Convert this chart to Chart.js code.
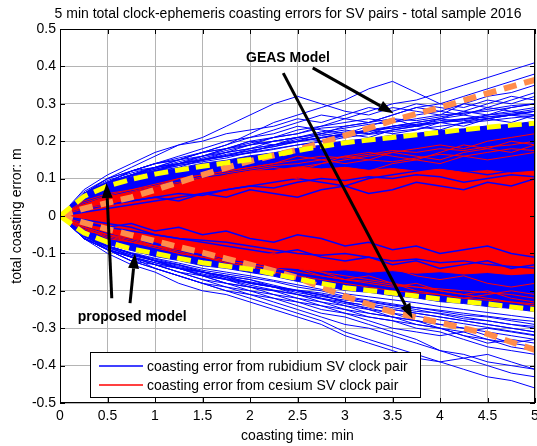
<!DOCTYPE html>
<html>
<head>
<meta charset="utf-8">
<script src="https://cdn.jsdelivr.net/npm/chart.js@4.4.1/dist/chart.umd.min.js"></script>
<style>
  html, body { margin: 0; padding: 0; background: #fff; }
  #wrap { width: 537px; height: 446px; }
</style>
</head>
<body>
<div id="wrap"><canvas id="chart" width="537" height="446"></canvas></div>
<script>
// coasting time in minutes
var times = [0, 0.25, 0.5, 0.75, 1, 1.25, 1.5, 1.75, 2, 2.25, 2.5, 2.75, 3, 3.25, 3.5, 3.75, 4, 4.25, 4.5, 4.75, 5];

// model envelopes (m)
var proposedUpper = [0, .052, .08, .098, .112, .123, .133, .142, .151, .163, .175, .186, .196, .203, .21, .217, .224, .231, .237, .243, .248];
var proposedLower = [0, -.045, -.07, -.088, -.1, -.113, -.125, -.134, -.142, -.155, -.168, -.18, -.192, -.199, -.206, -.214, -.222, -.229, -.235, -.243, -.25];
var geasUpper = [0, .02, .035, .05, .07, .09, .11, .129, .147, .162, .177, .196, .215, .235, .255, .273, .29, .309, .328, .346, .364];
var geasLower = [0, -.018, -.035, -.051, -.067, -.083, -.098, -.114, -.13, -.147, -.165, -.19, -.215, -.236, -.257, -.271, -.285, -.3, -.315, -.337, -.358];

// edges of the dense bundles of curves
var rubidiumHi = [0, .056, .087, .104, .119, .128, .141, .149, .161, .169, .181, .189, .201, .207, .216, .221, .229, .233, .241, .245, .253];
var rubidiumLo = [0, -.05, -.076, -.092, -.108, -.119, -.133, -.14, -.151, -.161, -.175, -.185, -.199, -.204, -.213, -.219, -.229, -.234, -.242, -.247, -.256];
var cesiumHi = [0, .03, .052, .062, .077, .086, .101, .108, .12, .122, .131, .126, .13, .122, .127, .12, .125, .117, .122, .115, .12];
var cesiumLo = [0, -.026, -.044, -.06, -.069, -.088, -.098, -.114, -.123, -.137, -.14, -.147, -.144, -.15, -.146, -.153, -.149, -.155, -.151, -.157, -.153];

// individual rubidium (blue) curves
var rb01 = [0, .05, .09, .11, .13, .15, .16, .18, .2, .21, .23, .24, .26, .28, .3, .31, .33, .35, .37, .39, .41];
var rb02 = [0, .06, .09, .12, .14, .15, .17, .19, .22, .25, .27, .29, .31, .34, .36, .33, .3, .29, .31, .3, .32];
var rb03 = [0, .06, .1, .13, .16, .19, .21, .24, .27, .3, .32, .3, .28, .27, .29, .28, .27, .3, .32, .33, .35];
var rb04 = [0, .07, .11, .14, .17, .19, .2, .22, .23, .24, .26, .25, .27, .29, .28, .3, .29, .28, .27, .29, .3];
var rb05 = [0, .05, .08, .11, .13, .14, .16, .18, .19, .21, .22, .24, .25, .26, .25, .27, .28, .3, .29, .28, .27];
var rb06 = [0, .06, .09, .12, .13, .15, .17, .18, .2, .19, .21, .22, .23, .22, .24, .25, .26, .25, .27, .28, .29];
var rb07 = [0, .05, .09, .1, .12, .14, .15, .17, .18, .2, .21, .2, .22, .24, .26, .24, .23, .25, .26, .25, .27];
var rb08 = [0, .06, .08, .11, .13, .14, .15, .16, .18, .19, .2, .22, .21, .23, .22, .23, .25, .24, .26, .27, .26];
var rb09 = [0, .05, .09, .12, .14, .16, .18, .2, .21, .22, .24, .23, .22, .21, .23, .24, .26, .28, .3, .32, .31];
var rb10 = [0, .06, .09, .11, .12, .14, .16, .17, .19, .2, .21, .22, .24, .25, .27, .29, .3, .32, .34, .36, .38];
var rb11 = [0, .05, .08, .1, .12, .13, .15, .16, .17, .19, .2, .21, .22, .23, .24, .25, .26, .27, .26, .27, .28];
var rb12 = [0, .06, .1, .12, .14, .15, .17, .19, .21, .23, .25, .27, .26, .25, .27, .29, .28, .27, .29, .31, .33];
var rb13 = [0, -.05, -.09, -.12, -.14, -.16, -.18, -.2, -.22, -.24, -.26, -.28, -.31, -.33, -.35, -.37, -.39, -.41, -.43, -.44, -.46];
var rb14 = [0, -.06, -.1, -.13, -.15, -.18, -.2, -.21, -.23, -.25, -.27, -.29, -.32, -.34, -.36, -.38, -.39, -.38, -.4, -.42, -.43];
var rb15 = [0, -.05, -.08, -.11, -.14, -.16, -.18, -.19, -.21, -.22, -.24, -.26, -.27, -.29, -.31, -.33, -.36, -.38, -.37, -.39, -.41];
var rb16 = [0, -.06, -.09, -.12, -.13, -.15, -.17, -.19, -.2, -.21, -.22, -.24, -.25, -.27, -.28, -.3, -.31, -.33, -.35, -.36, -.37];
var rb17 = [0, -.05, -.09, -.11, -.13, -.14, -.16, -.17, -.19, -.2, -.22, -.23, -.25, -.26, -.27, -.29, -.3, -.32, -.33, -.34, -.35];
var rb18 = [0, -.06, -.08, -.1, -.12, -.14, -.16, -.18, -.19, -.21, -.23, -.24, -.26, -.28, -.3, -.31, -.32, -.31, -.33, -.35, -.36];
var rb19 = [0, -.05, -.08, -.1, -.12, -.14, -.15, -.17, -.18, -.19, -.21, -.22, -.24, -.25, -.26, -.28, -.29, -.3, -.31, -.32, -.33];
var rb20 = [0, -.06, -.09, -.11, -.13, -.15, -.17, -.18, -.2, -.22, -.23, -.25, -.26, -.27, -.28, -.29, -.3, -.32, -.34, -.33, -.34];
var rb21 = [0, -.05, -.08, -.1, -.12, -.13, -.15, -.16, -.18, -.19, -.2, -.21, -.23, -.25, -.27, -.28, -.3, -.31, -.3, -.31, -.32];
var rb22 = [0, -.06, -.09, -.12, -.14, -.16, -.18, -.2, -.21, -.23, -.25, -.27, -.29, -.3, -.32, -.34, -.36, -.37, -.39, -.4, -.41];
var rb23 = [0, -.05, -.08, -.1, -.12, -.14, -.15, -.16, -.17, -.19, -.2, -.22, -.23, -.24, -.25, -.26, -.27, -.28, -.29, -.3, -.31];
var rb24 = [0, -.05, -.09, -.11, -.13, -.15, -.16, -.18, -.19, -.2, -.21, -.23, -.24, -.26, -.27, -.28, -.29, -.3, -.32, -.34, -.33];
// rubidium curves hugging the proposed-model envelope
var rb29 = [0, .06, .09, .11, .125, .14, .15, .165, .175, .185, .2, .21, .22, .23, .235, .245, .25, .26, .265, .27, .28];
var rb30 = [0, .055, .085, .105, .12, .135, .145, .155, .17, .18, .19, .2, .215, .225, .24, .245, .255, .26, .27, .275, .285];
var rb31 = [0, .06, .095, .115, .13, .14, .155, .17, .18, .19, .205, .215, .225, .22, .23, .24, .25, .255, .26, .27, .27];
var rb32 = [0, .058, .09, .11, .128, .145, .16, .175, .19, .2, .21, .225, .235, .245, .25, .26, .27, .275, .28, .29, .3];
var rb33 = [0, .06, .09, .108, .122, .135, .148, .16, .168, .178, .19, .198, .21, .218, .226, .232, .24, .248, .255, .262, .268];
var rb34 = [0, .065, .1, .12, .14, .155, .17, .18, .195, .21, .22, .235, .24, .25, .26, .255, .265, .275, .285, .295, .3];
var rb35 = [0, .058, .088, .107, .125, .138, .152, .162, .174, .186, .198, .208, .218, .228, .235, .242, .25, .258, .265, .272, .28];
var rb36 = [0, -.055, -.08, -.1, -.115, -.13, -.145, -.155, -.165, -.175, -.19, -.2, -.215, -.225, -.235, -.245, -.255, -.265, -.27, -.28, -.29];
var rb37 = [0, -.05, -.085, -.105, -.12, -.135, -.15, -.16, -.17, -.185, -.2, -.21, -.22, -.235, -.245, -.255, -.26, -.27, -.28, -.29, -.295];
var rb38 = [0, -.055, -.082, -.1, -.118, -.132, -.148, -.165, -.18, -.19, -.205, -.215, -.225, -.23, -.24, -.25, -.262, -.275, -.28, -.29, -.3];
var rb39 = [0, -.06, -.09, -.11, -.125, -.14, -.155, -.168, -.178, -.19, -.2, -.212, -.23, -.24, -.25, -.26, -.27, -.28, -.29, -.3, -.31];
var rb40 = [0, -.052, -.08, -.098, -.113, -.126, -.14, -.15, -.16, -.172, -.184, -.196, -.208, -.216, -.224, -.232, -.242, -.25, -.258, -.266, -.274];
var rb41 = [0, -.058, -.088, -.108, -.125, -.14, -.158, -.17, -.185, -.198, -.21, -.222, -.234, -.246, -.26, -.268, -.278, -.288, -.298, -.308, -.318];
var rb42 = [0, -.054, -.084, -.104, -.12, -.138, -.15, -.164, -.176, -.188, -.198, -.206, -.218, -.228, -.238, -.245, -.252, -.26, -.268, -.276, -.282];
// rubidium curves running inside the cesium bundle
var rb25 = [0, .01, .02, .03, .04, .05, .06, .07, .08, .09, .1, .09, .08, .1, .11, .12, .13, .12, .11, .12, .13];
var rb26 = [0, -.01, -.02, -.03, -.05, -.06, -.07, -.08, -.09, -.1, -.09, -.11, -.12, -.11, -.13, -.12, -.14, -.13, -.12, -.14, -.13];
var rb27 = [0, .02, .03, .04, .05, .04, .06, .05, .07, .06, .05, .07, .08, .06, .07, .09, .08, .07, .09, .08, .1];
var rb28 = [0, -.02, -.03, -.02, -.04, -.03, -.05, -.04, -.06, -.07, -.05, -.06, -.08, -.07, -.09, -.08, -.1, -.09, -.08, -.1, -.11];
var rb43 = [0, .015, .03, .04, .05, .06, .055, .07, .08, .075, .09, .1, .095, .105, .1, .11, .105, .09, .1, .11, .105];
var rb44 = [0, -.015, -.03, -.04, -.05, -.06, -.065, -.07, -.08, -.09, -.1, -.105, -.1, -.11, -.12, -.115, -.125, -.12, -.13, -.135, -.14];

// individual cesium (red) curves
var cs01 = [0, .03, .05, .06, .07, .08, .09, .1, .11, .12, .13, .14, .15, .16, .17, .18, .19, .18, .2, .21, .22];
var cs02 = [0, .04, .06, .07, .08, .1, .11, .12, .13, .14, .16, .15, .14, .15, .17, .16, .15, .17, .18, .17, .19];
var cs03 = [0, .03, .04, .06, .07, .08, .09, .11, .12, .13, .12, .14, .16, .17, .16, .15, .17, .19, .18, .2, .19];
var cs04 = [0, -.03, -.05, -.07, -.08, -.09, -.1, -.11, -.12, -.13, -.14, -.15, -.16, -.17, -.18, -.19, -.2, -.21, -.22, -.23, -.24];
var cs05 = [0, -.03, -.06, -.07, -.08, -.1, -.11, -.12, -.13, -.14, -.13, -.15, -.17, -.18, -.19, -.18, -.2, -.21, -.2, -.22, -.23];
var cs06 = [0, -.04, -.05, -.06, -.08, -.09, -.1, -.12, -.13, -.12, -.14, -.16, -.17, -.16, -.18, -.2, -.21, -.22, -.21, -.2, -.21];
var cs07 = [0, .02, .03, .05, .06, .07, .08, .09, .1, .11, .1, .12, .13, .12, .14, .15, .14, .16, .15, .16, .17];
var cs08 = [0, -.02, -.04, -.05, -.06, -.07, -.09, -.1, -.11, -.1, -.12, -.13, -.14, -.15, -.14, -.16, -.17, -.16, -.18, -.19, -.18];
var cs09 = [0, .035, .055, .07, .085, .1, .11, .12, .13, .14, .15, .16, .155, .165, .175, .17, .18, .175, .185, .19, .2];
var cs10 = [0, .03, .05, .065, .08, .09, .105, .115, .125, .135, .14, .15, .16, .15, .145, .155, .165, .16, .17, .18, .175];
var cs11 = [0, -.035, -.055, -.07, -.085, -.1, -.11, -.125, -.135, -.15, -.16, -.17, -.18, -.19, -.2, -.205, -.21, -.22, -.225, -.23, -.235];
var cs12 = [0, -.03, -.05, -.065, -.08, -.095, -.11, -.12, -.13, -.14, -.15, -.16, -.17, -.175, -.185, -.19, -.195, -.2, -.205, -.21, -.22];

var xTicks = [0, 0.5, 1, 1.5, 2, 2.5, 3, 3.5, 4, 4.5, 5];
var yTicks = [-0.5, -0.4, -0.3, -0.2, -0.1, 0, 0.1, 0.2, 0.3, 0.4, 0.5];

var titleText = '5 min total clock-ephemeris coasting errors for SV pairs - total sample 2016';
var legendLabels = ['coasting error from rubidium SV clock pair', 'coasting error from cesium SV clock pair'];

var FONT = '"Liberation Sans", Arial, Helvetica, sans-serif';
var BLUE = '#0000ff';
var RED = '#ff0000';

function pts(arr) {
    return times.map(function (t, i) { return { x: t, y: arr[i] }; });
}

function curve(arr, color, order, width) {
    return {
        data: pts(arr),
        borderColor: color,
        borderWidth: width || 1,
        pointRadius: 0,
        fill: false,
        order: order
    };
}

var datasets = [];
// rubidium bundle (drawn first, lowest)
datasets.push({ data: pts(rubidiumHi), borderColor: BLUE, borderWidth: 1, pointRadius: 0, fill: false, order: 9 });
datasets.push({ data: pts(rubidiumLo), borderColor: BLUE, borderWidth: 1, pointRadius: 0, backgroundColor: BLUE, fill: '-1', order: 9 });
[rb01, rb02, rb03, rb04, rb05, rb06, rb07, rb08, rb09, rb10, rb11, rb12,
 rb13, rb14, rb15, rb16, rb17, rb18, rb19, rb20, rb21, rb22, rb23, rb24,
 rb29, rb30, rb31, rb32, rb33, rb34, rb35, rb36, rb37, rb38, rb39, rb40, rb41, rb42].forEach(function (a) {
    datasets.push(curve(a, BLUE, 8));
});
// cesium bundle
datasets.push({ data: pts(cesiumHi), borderColor: RED, borderWidth: 1, pointRadius: 0, fill: false, order: 7 });
datasets.push({ data: pts(cesiumLo), borderColor: RED, borderWidth: 1, pointRadius: 0, backgroundColor: RED, fill: '-1', order: 7 });
[rb25, rb26, rb27, rb28, rb43, rb44].forEach(function (a) {
    datasets.push(curve(a, BLUE, 6, 1.5));
});
[cs01, cs02, cs03, cs04, cs05, cs06, cs07, cs08, cs09, cs10, cs11, cs12].forEach(function (a) {
    datasets.push(curve(a, RED, 5));
});
// model envelopes
[geasUpper, geasLower].forEach(function (a) {
    datasets.push({ data: pts(a), borderColor: '#ff8c4b', borderWidth: 6, borderDash: [13, 8], pointRadius: 0, fill: false, order: 2 });
});
[proposedUpper, proposedLower].forEach(function (a) {
    datasets.push({ data: pts(a), borderColor: '#ffff00', borderWidth: 5, borderDash: [14, 7], pointRadius: 0, fill: false, order: 1 });
});

function arrow(ctx, x1, y1, x2, y2) {
    var ang = Math.atan2(y2 - y1, x2 - x1);
    var len = 15, half = 5.5;
    var bx = x2 - len * Math.cos(ang), by = y2 - len * Math.sin(ang);
    ctx.beginPath();
    ctx.moveTo(x1, y1);
    ctx.lineTo(bx, by);
    ctx.lineWidth = 3;
    ctx.strokeStyle = '#000';
    ctx.stroke();
    ctx.beginPath();
    ctx.moveTo(x2, y2);
    ctx.lineTo(bx + half * Math.sin(ang), by - half * Math.cos(ang));
    ctx.lineTo(bx - half * Math.sin(ang), by + half * Math.cos(ang));
    ctx.closePath();
    ctx.fillStyle = '#000';
    ctx.fill();
}

var decorations = {
    id: 'decorations',
    afterDatasetsDraw: function (chart) {
        var ctx = chart.ctx, xs = chart.scales.x, ys = chart.scales.y, a = chart.chartArea;
        function px(t) { return xs.getPixelForValue(t); }
        function py(v) { return ys.getPixelForValue(v); }
        ctx.save();
        // box and inward ticks
        ctx.strokeStyle = '#000';
        ctx.lineWidth = 1;
        ctx.strokeRect(a.left + 0.5, a.top + 0.5, a.right - a.left - 1, a.bottom - a.top - 1);
        ctx.beginPath();
        xTicks.forEach(function (t) {
            var x = Math.round(px(t)) + 0.5;
            ctx.moveTo(x, a.bottom); ctx.lineTo(x, a.bottom - 5);
            ctx.moveTo(x, a.top); ctx.lineTo(x, a.top + 5);
        });
        yTicks.forEach(function (v) {
            var y = Math.round(py(v)) + 0.5;
            ctx.moveTo(a.left, y); ctx.lineTo(a.left + 5, y);
            ctx.moveTo(a.right, y); ctx.lineTo(a.right - 5, y);
        });
        ctx.stroke();

        // annotations
        ctx.fillStyle = '#000';
        ctx.font = 'bold 14px ' + FONT;
        ctx.textAlign = 'center';
        ctx.textBaseline = 'middle';
        ctx.fillText('GEAS Model', px(2.4), py(0.422));
        ctx.fillText('proposed model', px(0.76), py(-0.27));
        arrow(ctx, px(2.66), py(0.396), px(3.51), py(0.275));
        arrow(ctx, px(2.35), py(0.382), px(3.71), py(-0.274));
        arrow(ctx, px(0.545), py(-0.22), px(0.49), py(0.088));
        arrow(ctx, px(0.737), py(-0.233), px(0.79), py(-0.1));

        // legend
        var lx = 90, ly = 352, lw = 330, lh = 45;
        ctx.fillStyle = '#fff';
        ctx.fillRect(lx, ly, lw, lh);
        ctx.strokeStyle = '#000';
        ctx.lineWidth = 1;
        ctx.strokeRect(lx + 0.5, ly + 0.5, lw, lh);
        [BLUE, RED].forEach(function (c, i) {
            var yy = ly + 14 + i * 19;
            ctx.beginPath();
            ctx.lineWidth = 1.3;
            ctx.strokeStyle = c;
            ctx.moveTo(lx + 9, yy);
            ctx.lineTo(lx + 53, yy);
            ctx.stroke();
            ctx.fillStyle = '#000';
            ctx.font = '14px ' + FONT;
            ctx.textAlign = 'left';
            ctx.fillText(legendLabels[i], lx + 57, yy + 1);
        });

        // title
        ctx.font = '14px ' + FONT;
        ctx.textAlign = 'center';
        ctx.fillText(titleText, 288, 14);
        ctx.restore();
    }
};

new Chart(document.getElementById('chart'), {
    type: 'line',
    data: { datasets: datasets },
    plugins: [decorations],
    options: {
        responsive: false,
        animation: false,
        events: [],
        layout: { padding: { top: 29, right: 2, left: 0, bottom: 0 } },
        plugins: { legend: { display: false }, tooltip: { enabled: false }, title: { display: false } },
        scales: {
            x: {
                type: 'linear',
                min: 0, max: 5,
                afterFit: function (s) { s.height = 43; s.paddingRight = 0; s.paddingLeft = 0; },
                afterBuildTicks: function (s) { s.ticks = xTicks.map(function (v) { return { value: v }; }); },
                ticks: {
                    padding: 5, color: '#000', font: { family: FONT, size: 14 },
                    callback: function (v) { return String(Math.round(v * 10) / 10); }
                },
                grid: { color: '#b4b4b4', drawTicks: false },
                border: { display: false },
                title: { display: true, text: 'coasting time: min', color: '#000', font: { family: FONT, size: 14 }, padding: { top: 0, bottom: 1 } }
            },
            y: {
                min: -0.5, max: 0.5,
                afterFit: function (s) { s.width = 60; },
                afterBuildTicks: function (s) { s.ticks = yTicks.map(function (v) { return { value: v }; }); },
                ticks: {
                    padding: 4, color: '#000', font: { family: FONT, size: 14 },
                    callback: function (v) { var r = Math.round(v * 10) / 10; return r === 0 ? '0' : r.toFixed(1); }
                },
                grid: { color: '#b4b4b4', drawTicks: false },
                border: { display: false },
                title: { display: true, text: 'total coasting error: m', color: '#000', font: { family: FONT, size: 14 }, padding: { top: 9, bottom: 0 } }
            }
        }
    }
});
</script>
</body>
</html>
